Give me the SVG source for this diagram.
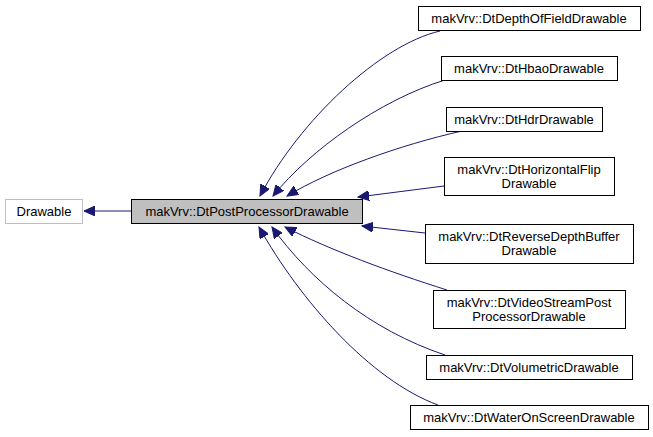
<svg xmlns="http://www.w3.org/2000/svg" width="653" height="437" viewBox="0 0 653 437">
<style>
.n rect{fill:#fff;stroke:#000;stroke-width:1}
text{font-family:"Liberation Sans",Arial,sans-serif;font-size:13px;text-anchor:middle}
#edges path{fill:none;stroke:#191970;stroke-width:1}
</style>
<defs>
<marker id="a" markerWidth="12" markerHeight="10" refX="11" refY="5" orient="auto" markerUnits="userSpaceOnUse">
<path d="M0,0 L11,5 L0,10 Z" fill="#191970" stroke="#191970"/>
</marker>
</defs>
<rect width="653" height="437" fill="#fff"/>
<g id="edges">
<path d="M131,211 L84,211" marker-end="url(#a)"/>
<path d="M440,31 C380,45 300,120 260,196" marker-end="url(#a)"/>
<path d="M445,80 C380,100 310,150 273,196" marker-end="url(#a)"/>
<path d="M462,131 C400,145 330,170 287,196" marker-end="url(#a)"/>
<path d="M444,186 L358,197" marker-end="url(#a)"/>
<path d="M425,233 L362,226" marker-end="url(#a)"/>
<path d="M447,290 C390,272 330,250 285,227" marker-end="url(#a)"/>
<path d="M445,355 C370,330 310,280 272,227" marker-end="url(#a)"/>
<path d="M438,405 C370,380 300,300 259,227" marker-end="url(#a)"/>
</g>
<g id="drawable"><rect x="5.5" y="199.5" width="77" height="24" fill="#fff" stroke="#bfbfbf"/><text x="44" y="216">Drawable</text></g>
<g id="post"><rect x="131.5" y="199.5" width="231" height="24" fill="#bfbfbf" stroke="#000"/><text x="247" y="216">makVrv::DtPostProcessorDrawable</text></g>
<g id="depth" class="n"><rect x="418.5" y="6.5" width="222" height="24"/><text x="529" y="23">makVrv::DtDepthOfFieldDrawable</text></g>
<g id="hbao" class="n"><rect x="441.5" y="56.5" width="176" height="24"/><text x="529" y="73">makVrv::DtHbaoDrawable</text></g>
<g id="hdr" class="n"><rect x="446.5" y="107.5" width="156" height="24"/><text x="524" y="124">makVrv::DtHdrDrawable</text></g>
<g id="hflip" class="n"><rect x="444.5" y="157.5" width="170" height="38"/><text x="529" y="174">makVrv::DtHorizontalFlip</text><text x="529" y="188">Drawable</text></g>
<g id="reverse" class="n"><rect x="425.5" y="224.5" width="208" height="39"/><text x="529" y="241">makVrv::DtReverseDepthBuffer</text><text x="529" y="255">Drawable</text></g>
<g id="video" class="n"><rect x="433.5" y="290.5" width="192" height="38"/><text x="529" y="307">makVrv::DtVideoStreamPost</text><text x="529" y="321">ProcessorDrawable</text></g>
<g id="volumetric" class="n"><rect x="426.5" y="355.5" width="206" height="24"/><text x="529" y="372">makVrv::DtVolumetricDrawable</text></g>
<g id="water" class="n"><rect x="410.5" y="405.5" width="238" height="24"/><text x="529" y="422">makVrv::DtWaterOnScreenDrawable</text></g>
</svg>
